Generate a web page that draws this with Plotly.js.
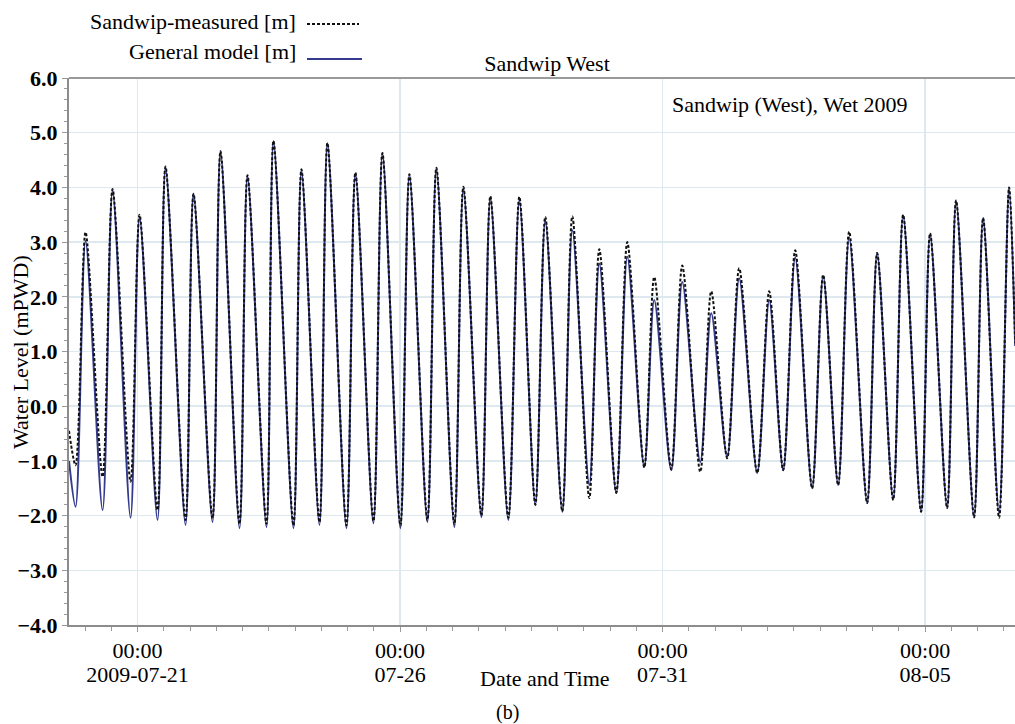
<!DOCTYPE html>
<html>
<head>
<meta charset="utf-8">
<script src="https://cdn.plot.ly/plotly-3.0.1.min.js"></script>
<style>html,body{margin:0;padding:0;background:#fff;}#chart{width:1015px;height:724px;}</style>
</head>
<body>
<div id="chart"></div>
<script>
// Times of the tidal turning points
const tideTimes = [
  "2009-07-19 16:40","2009-07-19 19:40","2009-07-20 00:14","2009-07-20 08:01","2009-07-20 12:35",
  "2009-07-20 20:48","2009-07-21 00:55","2009-07-21 09:08","2009-07-21 12:47","2009-07-21 21:56",
  "2009-07-22 01:35","2009-07-22 10:16","2009-07-22 13:55","2009-07-22 22:36","2009-07-23 02:15",
  "2009-07-23 10:56","2009-07-23 14:08","2009-07-23 23:16","2009-07-24 02:55","2009-07-24 11:09",
  "2009-07-24 14:48","2009-07-24 23:29","2009-07-25 03:35","2009-07-25 11:49","2009-07-25 15:56",
  "2009-07-26 00:09","2009-07-26 04:16","2009-07-26 12:29","2009-07-26 16:36","2009-07-27 00:49",
  "2009-07-27 04:56","2009-07-27 13:10","2009-07-27 17:16","2009-07-28 01:29","2009-07-28 06:31",
  "2009-07-28 13:50","2009-07-28 18:23","2009-07-29 02:10","2009-07-29 06:44","2009-07-29 14:30",
  "2009-07-29 19:04","2009-07-30 02:50","2009-07-30 07:52","2009-07-30 15:37","2009-07-30 20:11",
  "2009-07-31 03:58","2009-07-31 08:59","2009-07-31 17:13","2009-07-31 22:14","2009-08-01 05:32",
  "2009-08-01 11:01","2009-08-01 19:15","2009-08-02 00:44","2009-08-02 07:08","2009-08-02 12:37",
  "2009-08-02 20:22","2009-08-03 01:24","2009-08-03 08:15","2009-08-03 13:17","2009-08-03 21:30",
  "2009-08-04 02:04","2009-08-04 09:23","2009-08-04 13:57","2009-08-04 22:10","2009-08-05 02:17",
  "2009-08-05 10:03","2009-08-05 14:10","2009-08-05 22:23","2009-08-06 02:30","2009-08-06 09:48",
  "2009-08-06 14:22","2009-08-06 17:10"
];
// General model water level [m]
const modelLevel = [
  -1.00,-1.84, 3.02,-1.90, 3.95,-2.04, 3.47,-2.08, 4.37,-2.17,
   3.89,-2.12, 4.66,-2.23, 4.21,-2.21, 4.85,-2.23, 4.32,-2.17,
   4.81,-2.23, 4.26,-2.14, 4.63,-2.23, 4.23,-2.12, 4.35,-2.21,
   3.99,-2.03, 3.81,-2.08, 3.77,-1.81, 3.40,-1.93, 3.22,-1.44,
   2.61,-1.59, 2.73,-1.11, 1.94,-1.17, 2.27,-1.02, 1.70,-0.93,
   2.34,-1.22, 1.94,-1.17, 2.72,-1.50, 2.38,-1.44, 3.09,-1.77,
   2.80,-1.71, 3.49,-1.93, 3.15,-1.86, 3.75,-2.03, 3.44,-1.95,
   3.99, 1.10
];
// Sandwip measured water level [m]
const measuredLevel = [
  -0.45,-1.08, 3.18,-1.29, 3.97,-1.38, 3.50,-1.90, 4.38,-2.08,
   3.88,-2.05, 4.66,-2.15, 4.22,-2.15, 4.85,-2.18, 4.33,-2.12,
   4.81,-2.18, 4.27,-2.10, 4.63,-2.18, 4.24,-2.08, 4.36,-2.16,
   4.01,-2.00, 3.84,-2.04, 3.83,-1.80, 3.46,-1.92, 3.47,-1.68,
   2.87,-1.58, 3.00,-1.12, 2.36,-1.15, 2.57,-1.20, 2.10,-0.95,
   2.52,-1.22, 2.10,-1.17, 2.85,-1.50, 2.40,-1.44, 3.19,-1.77,
   2.80,-1.71, 3.50,-1.93, 3.16,-1.86, 3.76,-2.03, 3.44,-2.04,
   4.00, 1.15
];
const dayTicks = ["2009-07-21 00:00","2009-07-26 00:00","2009-07-31 00:00","2009-08-05 00:00"];
const timeTickText = ["00:00","00:00","00:00","00:00"];
const dateTickText = ["2009-07-21","07-26","07-31","08-05"];
const seriesNames = ["Sandwip-measured [m]","General model [m]"];
const xRange = ["2009-07-19 16:40", "2009-08-06 17:05"];

const FONT = "Liberation Serif, Times New Roman, serif";
const FS = 22;
const L = 69, R = 1015, T = 78, B = 625;
const px = v => (v - L) / (R - L);
const py = v => (B - v) / (B - T);

const traces = [
  {x: tideTimes, y: modelLevel, name: seriesNames[1], type: "scatter", mode: "lines",
   line: {color: "#343b8c", width: 2, shape: "spline", smoothing: 0.85}},
  {x: tideTimes, y: measuredLevel, name: seriesNames[0], type: "scatter", mode: "lines",
   line: {color: "#111111", width: 2, dash: "3px,2px", shape: "spline", smoothing: 0.85}},
  {x: [], y: [], xaxis: "x2", yaxis: "y", type: "scatter", mode: "lines", showlegend: false, hoverinfo: "skip"}
];

const layout = {
  width: 1015, height: 724,
  margin: {l: L, r: 1015 - R, t: T, b: 724 - B, pad: 0},
  paper_bgcolor: "#ffffff", plot_bgcolor: "#ffffff",
  showlegend: false,
  font: {family: FONT, size: FS, color: "#000"},
  title: {text: "Sandwip West", font: {family: FONT, size: FS, color: "#000"},
          x: 547 / 1015, xanchor: "center", y: 1 - 63 / 724, yanchor: "middle"},
  xaxis: {
    type: "date", range: xRange,
    tickvals: dayTicks, ticktext: timeTickText,
    ticks: "outside", ticklen: 5, tickcolor: "#9a9a9a",
    minor: {dtick: 12 * 3600 * 1000, tick0: "2009-07-21", ticks: "outside", ticklen: 4, tickcolor: "#9a9a9a", showgrid: false},
    showgrid: true, gridcolor: "#dde8ef", gridwidth: 1.5,
    showline: true, linecolor: "#8c8c8c", linewidth: 2,
    tickfont: {family: FONT, size: FS, color: "#000"},
    zeroline: false, fixedrange: true
  },
  xaxis2: {
    type: "date", range: xRange, overlaying: "x", anchor: "y", side: "bottom",
    tickvals: dayTicks, ticktext: dateTickText,
    ticks: "", showgrid: false, showline: false, zeroline: false,
    ticklabelstandoff: 34,
    tickfont: {family: FONT, size: FS, color: "#000"}, fixedrange: true
  },
  yaxis: {
    range: [-4, 6], dtick: 1, tickformat: ".1f",
    ticks: "outside", ticklen: 5, tickcolor: "#9a9a9a",
    minor: {dtick: 0.2, ticks: "outside", ticklen: 3, tickcolor: "#9a9a9a", showgrid: false},
    showgrid: true, gridcolor: "#dde8ef", gridwidth: 1.5,
    showline: true, linecolor: "#8c8c8c", linewidth: 2,
    tickfont: {family: FONT, size: FS, color: "#000", weight: "bold"},
    zeroline: false, fixedrange: true
  },
  shapes: [
    {type: "line", xref: "paper", yref: "paper", x0: 0, x1: 1, y0: 1, y1: 1, line: {color: "#9a9a9a", width: 2}},
    {type: "line", xref: "paper", yref: "paper", x0: px(307), x1: px(359), y0: py(24), y1: py(24), line: {color: "#111", width: 2, dash: "3px,2px"}},
    {type: "line", xref: "paper", yref: "paper", x0: px(307), x1: px(362), y0: py(59), y1: py(59), line: {color: "#343b8c", width: 2}}
  ],
  annotations: [
    {text: seriesNames[0], xref: "paper", yref: "paper", x: px(298), y: py(21), xanchor: "right", yanchor: "middle", showarrow: false, font: {family: FONT, size: FS, color: "#000"}},
    {text: seriesNames[1], xref: "paper", yref: "paper", x: px(298), y: py(52), xanchor: "right", yanchor: "middle", showarrow: false, font: {family: FONT, size: FS, color: "#000"}},
    {text: "Sandwip (West), Wet 2009", xref: "paper", yref: "paper", x: px(670), y: py(104), xanchor: "left", yanchor: "middle", showarrow: false, font: {family: FONT, size: FS, color: "#000"}},
    {text: "Water Level (mPWD)", xref: "paper", yref: "paper", x: px(20), y: py(352), xanchor: "center", yanchor: "middle", textangle: -90, showarrow: false, font: {family: FONT, size: FS, color: "#000"}},
    {text: "Date and Time", xref: "paper", yref: "paper", x: px(545), y: py(678), xanchor: "center", yanchor: "middle", showarrow: false, font: {family: FONT, size: FS, color: "#000"}},
    {text: "(b)", xref: "paper", yref: "paper", x: px(507), y: py(712), xanchor: "center", yanchor: "middle", showarrow: false, font: {family: FONT, size: 20, color: "#000"}}
  ]
};

Plotly.newPlot("chart", traces, layout, {displayModeBar: false, staticPlot: true});
</script>
</body>
</html>
